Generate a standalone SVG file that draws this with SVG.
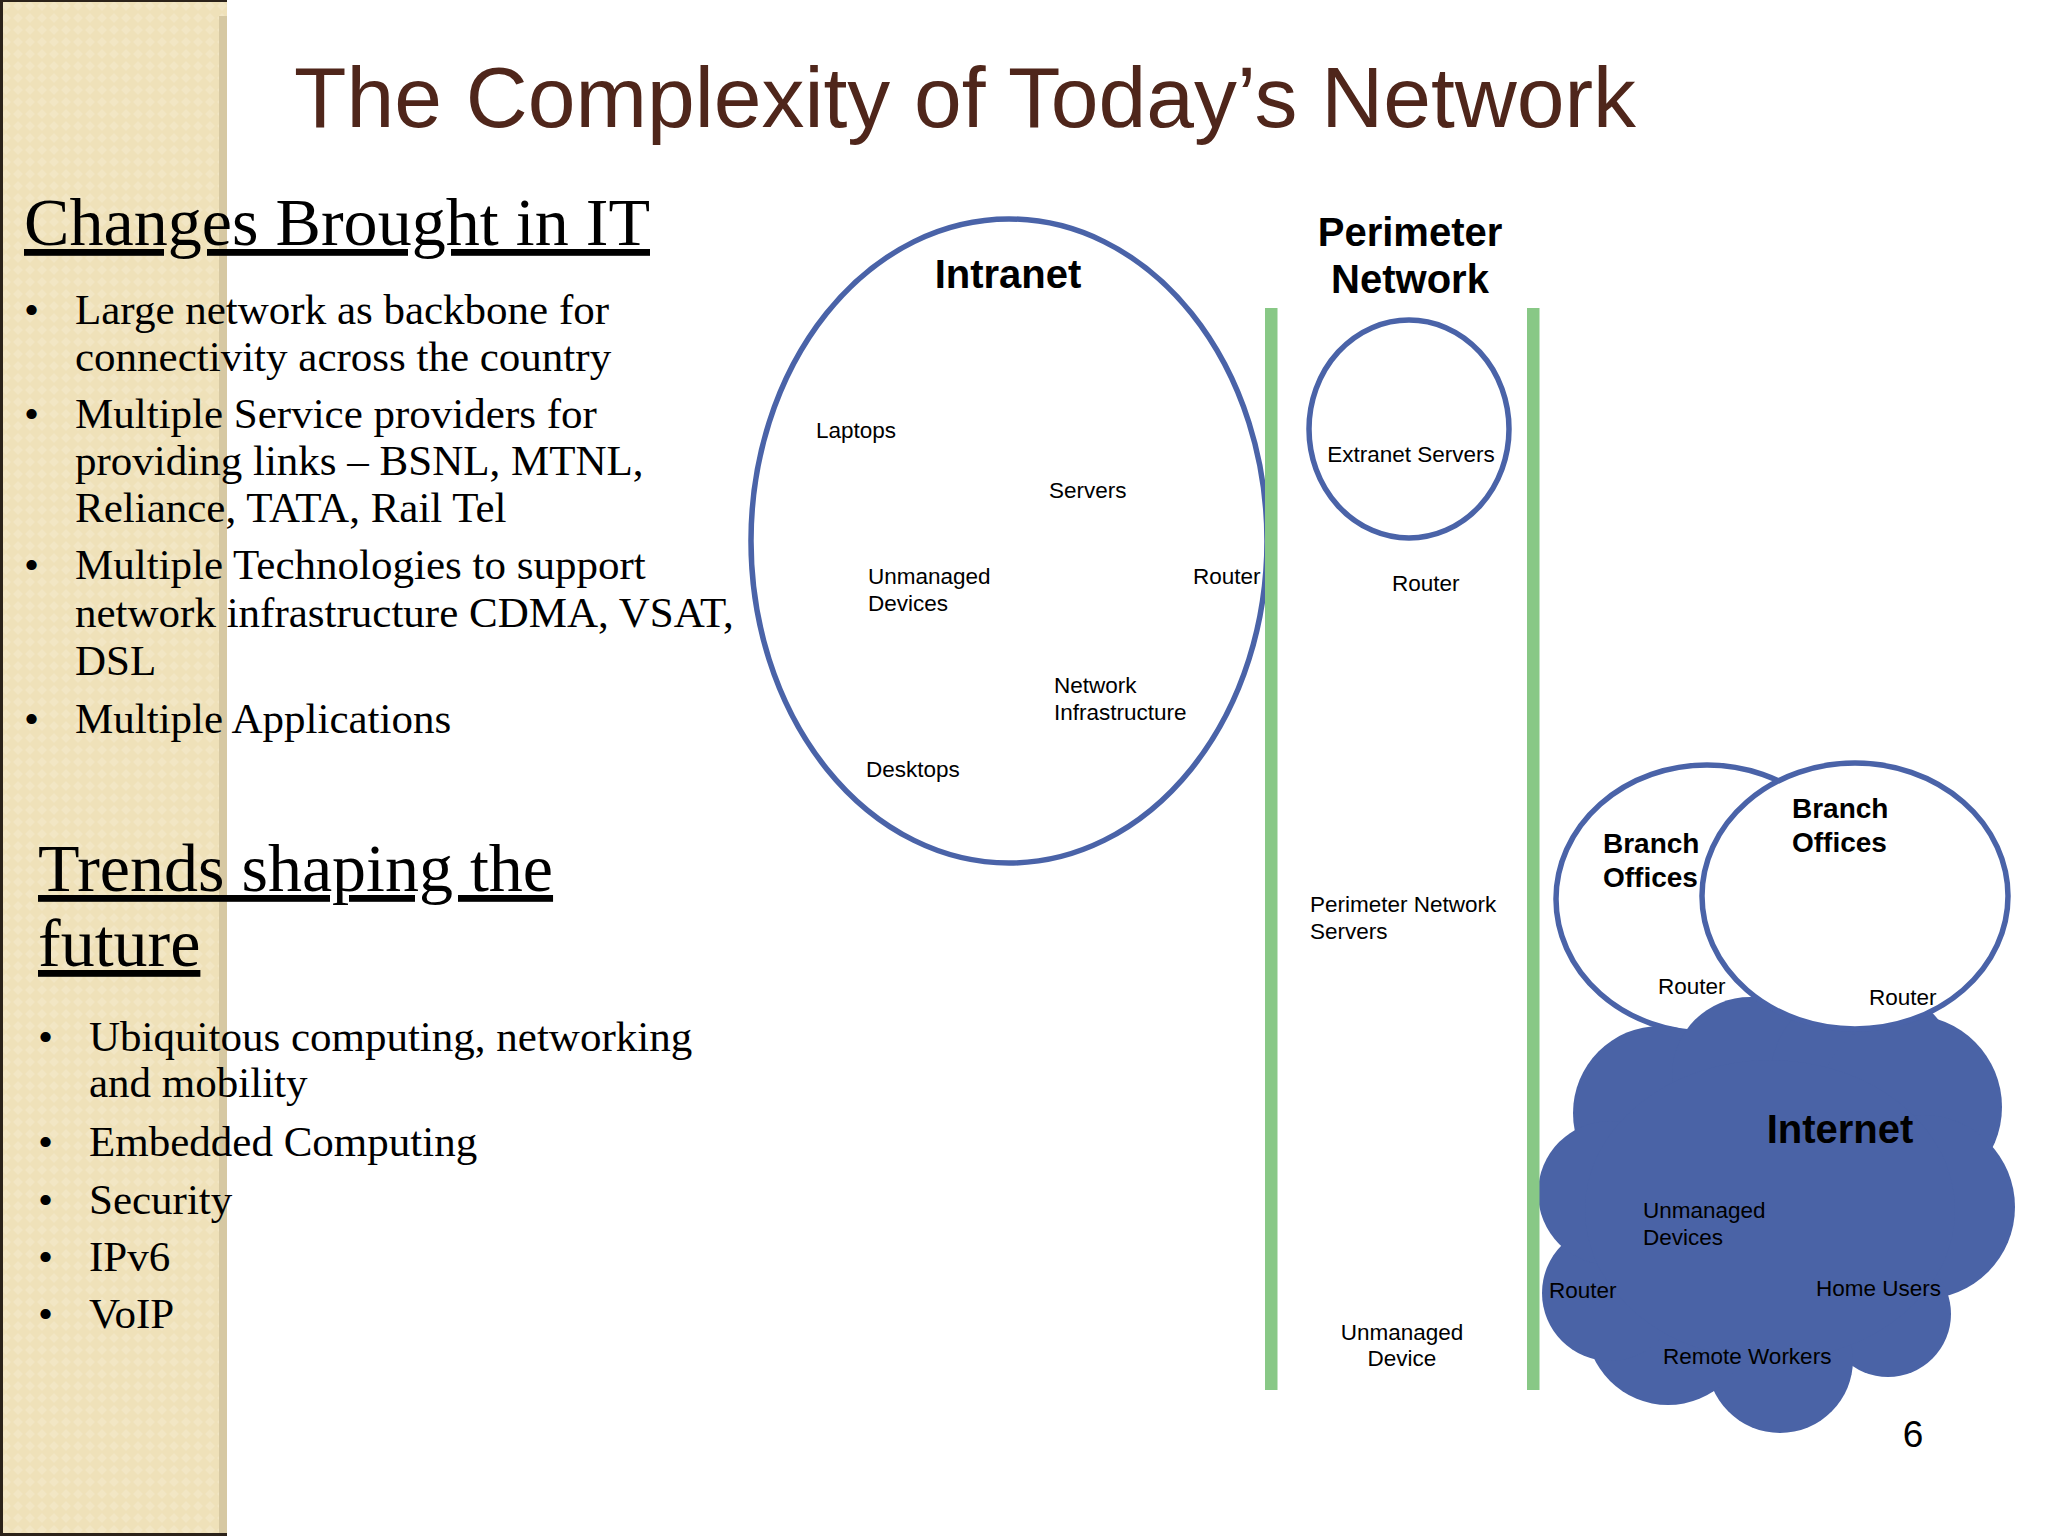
<svg xmlns="http://www.w3.org/2000/svg" width="2048" height="1536" viewBox="0 0 2048 1536">
  <defs>
    <pattern id="weave" x="0" y="0" width="12" height="12" patternUnits="userSpaceOnUse">
      <rect width="12" height="12" fill="#EFE1B9"/>
      <path d="M6 1 L11 6 L6 11 L1 6 Z" fill="#F2E6C4"/>
    </pattern>
    <style>
      .serif { font-family: "Liberation Serif", "Times New Roman", serif; fill: #000; }
      .head { font-size: 68px; text-decoration: underline; text-decoration-thickness: 4px; }
      .bul { font-size: 43px; }
      .lbl { font-family: "Liberation Sans", Arial, sans-serif; font-size: 22.5px; fill: #000; }
      .bold { font-family: "Liberation Sans", Arial, sans-serif; font-weight: bold; fill: #000; }
      .ring { fill: #FFFFFF; stroke: #4A63A8; stroke-width: 5.5; }
      .bar { fill: #88C886; }
      .cloud { fill: #4A63A6; }
    </style>
  </defs>

  <rect width="2048" height="1536" fill="#FFFFFF"/>

  <!-- left decorative panel -->
  <g id="side-panel">
    <rect x="0" y="0" width="227" height="1536" fill="url(#weave)"/>
    <rect x="219" y="16" width="8" height="1517" fill="#D6C8A2"/>
    <rect x="0" y="0" width="227" height="2" fill="#2B2219"/>
    <rect x="0" y="0" width="3" height="1536" fill="#2B2219"/>
    <rect x="0" y="1533" width="227" height="3" fill="#2B2219"/>
  </g>

  <!-- title -->
  <g id="title">
    <text x="294" y="127" font-family="'Liberation Sans', Arial, sans-serif" font-size="86" fill="#4F261B" textLength="1342" lengthAdjust="spacingAndGlyphs">The Complexity of Today’s Network</text>
  </g>

  <!-- left column text -->
  <g id="changes" class="serif">
    <text class="serif head" x="24" y="245" textLength="626" lengthAdjust="spacingAndGlyphs">Changes Brought in IT</text>
    <g class="bul">
      <text x="24" y="324">•</text>
      <text x="75" y="324">Large network as backbone for</text>
      <text x="75" y="371">connectivity across the country</text>
      <text x="24" y="428">•</text>
      <text x="75" y="428">Multiple Service providers for</text>
      <text x="75" y="475">providing links – BSNL, MTNL,</text>
      <text x="75" y="522">Reliance, TATA, Rail Tel</text>
      <text x="24" y="579">•</text>
      <text x="75" y="579">Multiple Technologies to support</text>
      <text x="75" y="627">network infrastructure CDMA, VSAT,</text>
      <text x="75" y="675">DSL</text>
      <text x="24" y="733">•</text>
      <text x="75" y="733">Multiple Applications</text>
    </g>
  </g>

  <g id="trends" class="serif">
    <text class="serif head" x="38" y="891">Trends shaping the</text>
    <text class="serif head" x="38" y="966">future</text>
    <g class="bul">
      <text x="38" y="1051">•</text>
      <text x="89" y="1051">Ubiquitous computing, networking</text>
      <text x="89" y="1097">and mobility</text>
      <text x="38" y="1156">•</text>
      <text x="89" y="1156">Embedded Computing</text>
      <text x="38" y="1214">•</text>
      <text x="89" y="1214">Security</text>
      <text x="38" y="1271">•</text>
      <text x="89" y="1271">IPv6</text>
      <text x="38" y="1328">•</text>
      <text x="89" y="1328">VoIP</text>
    </g>
  </g>

  <!-- Intranet -->
  <g id="intranet">
    <ellipse class="ring" cx="1009" cy="541" rx="258" ry="322"/>
    <text class="bold" x="1008" y="288" font-size="40" text-anchor="middle">Intranet</text>
    <text class="lbl" x="816" y="438">Laptops</text>
    <text class="lbl" x="1049" y="498">Servers</text>
    <text class="lbl" x="868" y="584">Unmanaged</text>
    <text class="lbl" x="868" y="611">Devices</text>
    <text class="lbl" x="1193" y="584">Router</text>
    <text class="lbl" x="1054" y="693">Network</text>
    <text class="lbl" x="1054" y="720">Infrastructure</text>
    <text class="lbl" x="866" y="777">Desktops</text>
  </g>

  <!-- Perimeter network -->
  <g id="perimeter">
    <text class="bold" x="1410" y="246" font-size="40" text-anchor="middle">Perimeter</text>
    <text class="bold" x="1410" y="293" font-size="40" text-anchor="middle">Network</text>
    <text class="lbl" x="1392" y="591">Router</text>
    <text class="lbl" x="1310" y="912">Perimeter Network</text>
    <text class="lbl" x="1310" y="939">Servers</text>
    <text class="lbl" x="1402" y="1340" text-anchor="middle">Unmanaged</text>
    <text class="lbl" x="1402" y="1366" text-anchor="middle">Device</text>
  </g>

  <g id="extranet">
    <ellipse class="ring" cx="1409" cy="429" rx="100" ry="109"/>
    <text class="lbl" x="1411" y="462" text-anchor="middle">Extranet Servers</text>
  </g>

  <!-- Branch office (left) -->
  <g id="branch-left">
    <ellipse class="ring" cx="1707" cy="899" rx="151" ry="134"/>
    <text class="bold" x="1603" y="853" font-size="28">Branch</text>
    <text class="bold" x="1603" y="887" font-size="28">Offices</text>
    <text class="lbl" x="1658" y="994">Router</text>
  </g>

  <!-- Internet cloud -->
  <g id="internet">
    <g class="cloud">
      <circle cx="1660" cy="1113" r="87"/>
      <circle cx="1750" cy="1075" r="78"/>
      <circle cx="1865" cy="1080" r="95"/>
      <circle cx="1910" cy="1107" r="92"/>
      <circle cx="1923" cy="1207" r="92"/>
      <circle cx="1888" cy="1314" r="63"/>
      <circle cx="1780" cy="1360" r="73"/>
      <circle cx="1668" cy="1323" r="82"/>
      <circle cx="1610" cy="1293" r="68"/>
      <circle cx="1610" cy="1193" r="72"/>
      <ellipse cx="1770" cy="1210" rx="185" ry="150"/>
    </g>
    <text class="bold" x="1840" y="1143" font-size="40" text-anchor="middle">Internet</text>
    <text class="lbl" x="1643" y="1218">Unmanaged</text>
    <text class="lbl" x="1643" y="1245">Devices</text>
    <text class="lbl" x="1549" y="1298">Router</text>
    <text class="lbl" x="1816" y="1296">Home Users</text>
    <text class="lbl" x="1663" y="1364">Remote Workers</text>
  </g>

  <!-- Branch office (right) -->
  <g id="branch-right">
    <ellipse class="ring" cx="1855" cy="896" rx="153" ry="133"/>
    <text class="bold" x="1792" y="818" font-size="28">Branch</text>
    <text class="bold" x="1792" y="852" font-size="28">Offices</text>
    <text class="lbl" x="1869" y="1005">Router</text>
  </g>

  <!-- perimeter boundaries -->
  <g id="boundaries">
    <rect class="bar" x="1265" y="308" width="12.5" height="1082"/>
    <rect class="bar" x="1527" y="308" width="12.5" height="1082"/>
  </g>

  <g id="connectors"/>

  <text x="1913" y="1447" font-family="'Liberation Sans', Arial, sans-serif" font-size="37" fill="#000" text-anchor="middle">6</text>
</svg>
